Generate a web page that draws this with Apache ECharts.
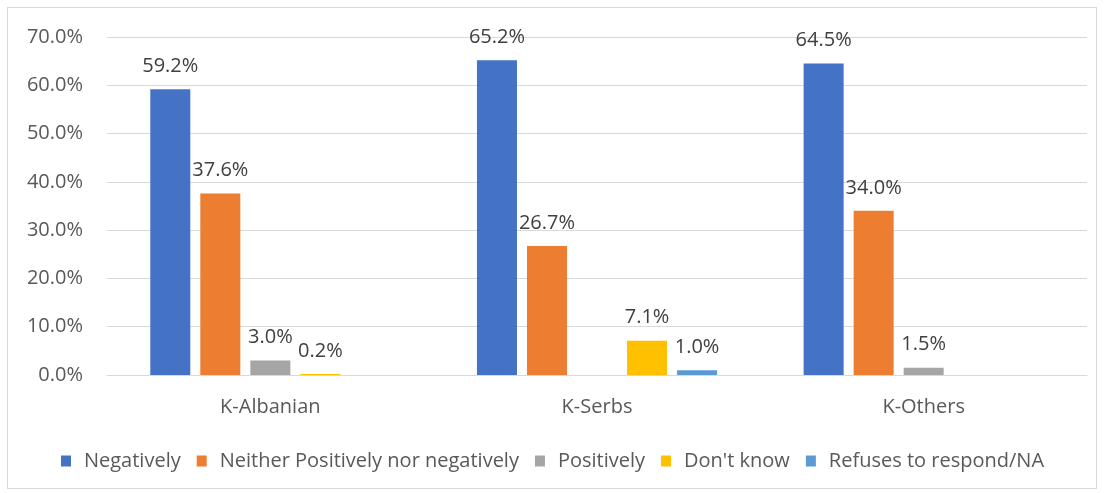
<!DOCTYPE html>
<html>
<head>
<meta charset="utf-8">
<script src="https://cdn.jsdelivr.net/npm/echarts@6/dist/echarts.min.js"></script>
<style>
html,body{margin:0;padding:0;background:#fff;}
#frame{position:absolute;left:7px;top:7px;width:1090px;height:482px;border:1px solid #d9d9d9;box-sizing:border-box;}
#chart{position:absolute;left:0;top:0;width:1105px;height:493px;}
</style>
</head>
<body>
<div id="frame"></div>
<div id="chart"></div>
<script>
const categories = ['K-Albanian', 'K-Serbs', 'K-Others'];
const seriesNames = ['Negatively', 'Neither Positively nor negatively', 'Positively', "Don't know", 'Refuses to respond/NA'];
const negatively = [59.2, 65.2, 64.5];
const neither = [37.6, 26.7, 34.0];
const positively = [3.0, null, 1.5];
const dontKnow = [0.2, 7.1, null];
const refuses = [null, 1.0, null];
const colors = ['#4472C4', '#ED7D31', '#A5A5A5', '#FFC000', '#5B9BD5'];
const yTicks = {min: 0, max: 70, interval: 10};

const allData = [negatively, neither, positively, dontKnow, refuses];
const font = '"Open Sans", sans-serif';
const chart = echarts.init(document.getElementById('chart'));
chart.setOption({
  animation: false,
  color: colors,
  textStyle: {fontFamily: font},
  grid: {left: 107, right: 18, top: 37, bottom: 118},
  legend: {
    bottom: 17,
    left: 'center',
    itemWidth: 10,
    itemHeight: 11,
    itemGap: 16,
    icon: 'rect',
    textStyle: {fontSize: 20, color: '#595959', fontFamily: font, padding: [0, 0, 0, 8]},
    data: seriesNames
  },
  xAxis: {
    type: 'category',
    data: categories,
    axisLine: {show: true, lineStyle: {color: '#d9d9d9', width: 1}},
    axisTick: {show: false},
    axisLabel: {fontSize: 20, color: '#595959', margin: 22, fontFamily: font}
  },
  yAxis: {
    type: 'value',
    min: yTicks.min, max: yTicks.max, interval: yTicks.interval,
    axisLine: {show: false},
    axisTick: {show: false},
    splitLine: {lineStyle: {color: '#d9d9d9', width: 1}},
    axisLabel: {fontSize: 20, color: '#595959', margin: 24, fontFamily: font,
      formatter: v => v.toFixed(1) + '%'}
  },
  series: seriesNames.map((name, i) => ({
    name: name,
    type: 'bar',
    data: allData[i],
    barGap: '25%',
    barCategoryGap: '26.5%',
    label: {
      show: true,
      position: 'top',
      distance: 13,
      fontSize: 20,
      color: '#404040',
      fontFamily: font,
      formatter: p => p.value == null ? '' : p.value.toFixed(1) + '%'
    }
  }))
});
</script>
</body>
</html>
